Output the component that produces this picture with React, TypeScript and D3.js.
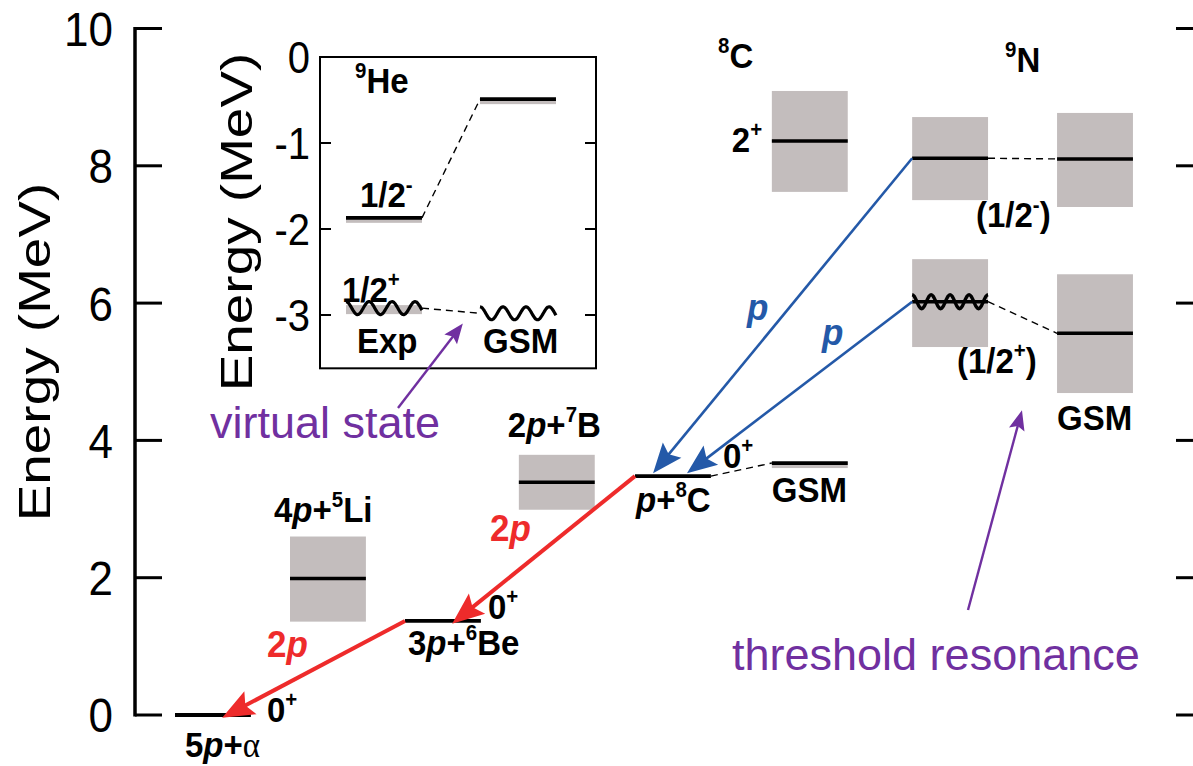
import React from 'react';
import * as d3 from 'd3';

const W = 1193, H = 766;
const FONT = "'Liberation Sans', Arial, Helvetica, sans-serif";
const SERIF = "'Liberation Serif', 'Times New Roman', serif";
const GRAY = '#c3bdbd';
const RED = '#ee2b2b';
const BLUE = '#2459a8';
const PURPLE = '#7030a0';

// ---------- data ----------
const yTicks = [0, 2, 4, 6, 8, 10];
const insetTicks = [0, -1, -2, -3];

// main diagram: thresholds (plain levels) — column index, energy (MeV)
const thresholdCols = [0, 2, 4, 5.19];
const thresholdE = [0, 1.37, 3.48, 3.67];
const thresholdShadow = [false, false, false, true];

// resonances with widths (gray boxes)
const boxCols = [1, 2.99, 5.19, 6.41, 7.67, 6.41, 7.67];
const boxE = [1.99, 3.39, 8.36, 8.11, 8.10, 6.02, 5.56];
const boxLo = [1.36, 2.99, 7.62, 7.50, 7.40, 5.36, 4.69];
const boxHi = [2.6, 3.79, 9.09, 8.71, 8.77, 6.64, 6.42];
const boxWave = [false, false, false, false, false, true, false];

// decay arrows: from (col, E) to (col, E)
const redFrom = [[4, 3.48], [2, 1.37]];
const redTo = [[2.41, 1.33], [0.41, -0.04]];
const blueFrom = [[6.41, 8.11], [6.41, 6.02]];
const blueTo = [[4.157, 3.52], [4.452, 3.52]];

// dashed connectors (main)
const dashFrom = [[4.66, 3.48], [7.07, 8.11], [7.07, 6.02]];
const dashTo = [[5.19, 3.67], [7.67, 8.10], [7.67, 5.56]];

// inset 9He: column 0 = Exp, 1 = GSM
const insetCols = [0, 1, 0, 1];
const insetE = [-1.87, -0.49, -2.92, -2.98];
const insetWave = [false, false, true, true];
const insetBand = [true, true, true, false];
const insetDashFrom = [[0.567, -1.87], [0.567, -2.92]];
const insetDashTo = [[1, -0.49], [1, -2.98]];

// ---------- scales ----------
const yE = d3.scaleLinear().domain([0, 10]).range([715, 28.5]);
const xCol = d3.scaleLinear().domain([0, 1]).range([175, 290]);
const COLW = 0.66;
const yIn = d3.scaleLinear().domain([0, -3]).range([57, 315]);
const xIn = d3.scaleLinear().domain([0, 1]).range([346, 480]);
const INW = 0.567;
const IN_BOTTOM = -3.62;

type Seg = { t: string; sup?: boolean; i?: boolean; w?: string; f?: string };

function Rich({ x, y, segs, size = 33, weight = 'bold', fill = '#000', anchor = 'start' }:
  { x: number; y: number; segs: Seg[]; size?: number; weight?: string; fill?: string; anchor?: string }) {
  let shift = 0;
  return (
    <text transform={`translate(${x},${y}) scale(1,1.08)`} fontSize={size} fontWeight={weight} fill={fill} textAnchor={anchor} fontFamily={FONT}>
      {segs.map((s, k) => {
        const target = s.sup ? -size * 0.42 : 0;
        const dy = target - shift;
        shift = target;
        return (
          <tspan key={k} dy={dy} fontSize={s.sup ? size * 0.62 : undefined}
            fontStyle={s.i ? 'italic' : undefined} fontWeight={s.w} fontFamily={s.f}>{s.t}</tspan>
        );
      })}
    </text>
  );
}

function wavePath(x0: number, x1: number, y: number, periods: number, amp: number) {
  const pts: [number, number][] = [];
  const n = 120;
  for (let k = 0; k <= n; k++) {
    const t = k / n;
    pts.push([x0 + (x1 - x0) * t, y - amp * Math.cos(2 * Math.PI * periods * t)]);
  }
  return d3.line().curve(d3.curveBasis)(pts) || '';
}

function Arrow({ x1, y1, x2, y2, color, width, hl, hw }:
  { x1: number; y1: number; x2: number; y2: number; color: string; width: number; hl: number; hw: number }) {
  const dx = x2 - x1, dy = y2 - y1;
  const L = Math.hypot(dx, dy);
  const ux = dx / L, uy = dy / L;
  const bx = x2 - ux * hl, by = y2 - uy * hl;
  const px = -uy, py = ux;
  const head = `M${x2},${y2} L${bx + px * hw},${by + py * hw} L${bx + ux * hl * 0.18},${by + uy * hl * 0.18} L${bx - px * hw},${by - py * hw} Z`;
  return (
    <g>
      <line x1={x1} y1={y1} x2={bx + ux * hl * 0.3} y2={by + uy * hl * 0.3} stroke={color} strokeWidth={width} />
      <path d={head} fill={color} />
    </g>
  );
}

const sup = (t: string): Seg => ({ t, sup: true });

export default function App() {
  const colW = xCol(COLW) - xCol(0);
  const inW = xIn(INW) - xIn(0);
  return (
    <svg width={W} height={H} style={{ display: 'block', position: 'absolute', left: 0, top: 0, background: '#fff' }}>
      <rect x={0} y={0} width={W} height={H} fill="#fff" />

      {/* main left axis */}
      <line x1={135} x2={135} y1={yE(10) - 1.5} y2={yE(0) + 1.5} stroke="#000" strokeWidth={3.5} />
      {yTicks.map(t => (
        <g key={t}>
          <line x1={135} x2={162} y1={yE(t)} y2={yE(t)} stroke="#000" strokeWidth={3} />
          <line x1={1176} x2={1196} y1={yE(t)} y2={yE(t)} stroke="#000" strokeWidth={3} />
          <text transform={`translate(113,${yE(t)}) scale(1,1.1)`} dy="0.36em" textAnchor="end" fontSize={44} fontFamily={FONT}>{t}</text>
        </g>
      ))}
      <text transform={`translate(50,352) scale(1,1.22) rotate(-90)`} textAnchor="middle" fontSize={45} fontFamily={FONT}>Energy (MeV)</text>

      {/* gray boxes */}
      {boxCols.map((c, k) => (
        <rect key={'b' + k} x={xCol(c)} y={yE(boxHi[k])} width={colW} height={yE(boxLo[k]) - yE(boxHi[k])} fill={GRAY} />
      ))}
      {boxCols.map((c, k) => (
        <g key={'bl' + k}>
          <line x1={xCol(c)} x2={xCol(c) + colW} y1={yE(boxE[k])} y2={yE(boxE[k])} stroke="#000" strokeWidth={3.5} />
          {boxWave[k] && <path d={wavePath(xCol(c), xCol(c) + colW, yE(boxE[k]), 4, 7)} fill="none" stroke="#000" strokeWidth={3.4} />}
        </g>
      ))}

      {/* threshold levels */}
      {thresholdCols.map((c, k) => (
        <g key={'t' + k}>
          {thresholdShadow[k] && <rect x={xCol(c)} y={yE(thresholdE[k]) - 1} width={colW} height={6} fill={GRAY} />}
          <line x1={xCol(c)} x2={xCol(c) + colW} y1={yE(thresholdE[k])} y2={yE(thresholdE[k])} stroke="#000" strokeWidth={3.8} />
        </g>
      ))}

      {/* dashed connectors */}
      {dashFrom.map((f, k) => (
        <line key={'d' + k} x1={xCol(f[0])} y1={yE(f[1])} x2={xCol(dashTo[k][0])} y2={yE(dashTo[k][1])}
          stroke="#000" strokeWidth={1.4} strokeDasharray="7,5" />
      ))}

      {/* arrows */}
      {redFrom.map((f, k) => (
        <Arrow key={'r' + k} x1={xCol(f[0])} y1={yE(f[1])} x2={xCol(redTo[k][0])} y2={yE(redTo[k][1])} color={RED} width={4} hl={32} hw={13} />
      ))}
      {blueFrom.map((f, k) => (
        <Arrow key={'bb' + k} x1={xCol(f[0])} y1={yE(f[1])} x2={xCol(blueTo[k][0])} y2={yE(blueTo[k][1])} color={BLUE} width={2.6} hl={30} hw={12} />
      ))}

      {/* main labels */}
      <Rich x={xCol(0) + 10} y={yE(0) + 42} segs={[{ t: '5' }, { t: 'p', i: true }, { t: '+' }, { t: 'α', w: 'normal', f: SERIF }]} />
      <Rich x={xCol(0) + 92} y={yE(0) + 7} segs={[{ t: '0' }, sup('+')]} />
      <Rich x={xCol(2) + 3} y={yE(1.37) + 34} segs={[{ t: '3' }, { t: 'p', i: true }, { t: '+' }, sup('6'), { t: 'Be' }]} />
      <Rich x={xCol(2) + 83} y={yE(1.37) - 2} segs={[{ t: '0' }, sup('+')]} />
      <Rich x={xCol(1) - 16} y={yE(2.6) - 15} segs={[{ t: '4' }, { t: 'p', i: true }, { t: '+' }, sup('5'), { t: 'Li' }]} />
      <Rich x={xCol(2.99) - 11} y={yE(3.79) - 18} segs={[{ t: '2' }, { t: 'p', i: true }, { t: '+' }, sup('7'), { t: 'B' }]} />
      <Rich x={xCol(4) + 1} y={yE(3.48) + 36} segs={[{ t: 'p', i: true }, { t: '+' }, sup('8'), { t: 'C' }]} />
      <Rich x={xCol(4) + 88} y={yE(3.48) - 8} segs={[{ t: '0' }, sup('+')]} />
      <Rich x={xCol(5.19)} y={yE(3.67) + 39} segs={[{ t: 'GSM' }]} />
      <Rich x={718} y={68} segs={[sup('8'), { t: 'C' }]} />
      <Rich x={xCol(5.19) - 40} y={yE(8.36) + 11} segs={[{ t: '2' }, sup('+')]} />
      <Rich x={1005} y={72} segs={[sup('9'), { t: 'N' }]} />
      <Rich x={976} y={227} segs={[{ t: '(1/2' }, sup('-'), { t: ')' }]} />
      <Rich x={957} y={373} segs={[{ t: '(1/2' }, sup('+'), { t: ')' }]} />
      <Rich x={xCol(7.67)} y={430} segs={[{ t: 'GSM' }]} />
      <Rich x={747} y={320} size={35} fill={BLUE} segs={[{ t: 'p', i: true }]} />
      <Rich x={822} y={345} size={35} fill={BLUE} segs={[{ t: 'p', i: true }]} />
      <Rich x={490} y={541} size={35} fill={RED} segs={[{ t: '2' }, { t: 'p', i: true }]} />
      <Rich x={267} y={657} size={35} fill={RED} segs={[{ t: '2' }, { t: 'p', i: true }]} />

      {/* inset */}
      <rect x={320} y={yIn(0)} width={276} height={yIn(IN_BOTTOM) - yIn(0)} fill="#fff" stroke="#000" strokeWidth={2} />
      {insetTicks.map(t => (
        <g key={'it' + t}>
          <line x1={320} x2={331} y1={yIn(t)} y2={yIn(t)} stroke="#000" strokeWidth={2} />
          <line x1={585} x2={596} y1={yIn(t)} y2={yIn(t)} stroke="#000" strokeWidth={2} />
          <text transform={`translate(310,${yIn(t)}) scale(1,1.1)`} dy="0.36em" textAnchor="end" fontSize={40} fontFamily={FONT}>{t}</text>
        </g>
      ))}
      <text transform={`translate(252,222) scale(1,1.22) rotate(-90)`} textAnchor="middle" fontSize={45} fontFamily={FONT}>Energy (MeV)</text>
      {insetCols.map((c, k) => (
        <g key={'il' + k}>
          {insetBand[k] && <rect x={xIn(c)} y={yIn(insetE[k]) - (insetWave[k] ? 3 : 1)} width={inW} height={insetWave[k] ? 9 : 6} fill={GRAY} />}
          {insetWave[k]
            ? <path d={wavePath(xIn(c), xIn(c) + inW, yIn(insetE[k]), 3.3, 6.5)} fill="none" stroke="#000" strokeWidth={3.2} />
            : <line x1={xIn(c)} x2={xIn(c) + inW} y1={yIn(insetE[k])} y2={yIn(insetE[k])} stroke="#000" strokeWidth={3.8} />}
        </g>
      ))}
      {insetDashFrom.map((f, k) => (
        <line key={'id' + k} x1={xIn(f[0])} y1={yIn(f[1])} x2={xIn(insetDashTo[k][0])} y2={yIn(insetDashTo[k][1])}
          stroke="#000" strokeWidth={1.4} strokeDasharray="7,5" />
      ))}
      <Rich x={355} y={93} segs={[sup('9'), { t: 'He' }]} />
      <Rich x={360} y={207} segs={[{ t: '1/2' }, sup('-')]} />
      <Rich x={342} y={302} segs={[{ t: '1/2' }, sup('+')]} />
      <Rich x={357} y={353} segs={[{ t: 'Exp' }]} />
      <Rich x={483} y={353} segs={[{ t: 'GSM' }]} />

      {/* purple annotations */}
      <text x={210} y={438} fontSize={45} fontFamily={FONT} fill={PURPLE}>virtual state</text>
      <Arrow x1={398} y1={408} x2={xIn(0.872)} y2={yIn(-3.1)} color={PURPLE} width={2.4} hl={20} hw={8} />
      <text x={732} y={670} fontSize={45} fontFamily={FONT} fill={PURPLE}>threshold resonance</text>
      <Arrow x1={968} y1={610} x2={xCol(7.365)} y2={yE(4.44)} color={PURPLE} width={2.4} hl={20} hw={8} />
    </svg>
  );
}
